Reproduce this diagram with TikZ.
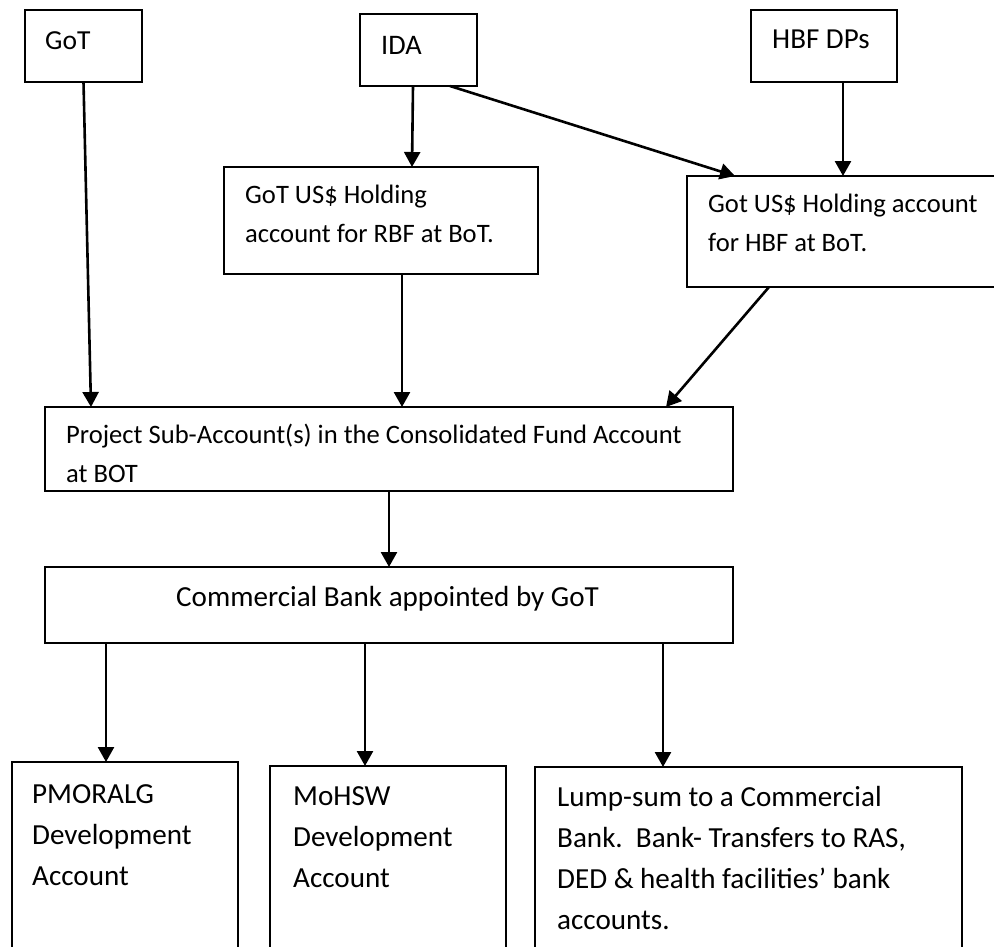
\documentclass[tikz,border=0pt]{standalone}
\usepackage{fontspec}
\setmainfont{Carlito}
\usetikzlibrary{arrows.meta}
\begin{document}
\begin{tikzpicture}[x=1pt,y=-1pt,
  box/.style={draw, line width=2pt, inner sep=0pt, outer sep=0pt, anchor=north west},
  conn/.style={line width=2.6pt, -{Triangle[length=15pt,width=16pt]}},
  txt/.style={anchor=base west, inner sep=0pt, align=left, font=\fontsize{26.6}{38.5}\selectfont},
  txtb/.style={txt, font=\fontsize{29.1}{41}\selectfont}]
\useasboundingbox (0,0) rectangle (994,946);
\clip (0,0) rectangle (994,946);
% boxes
\node[box, minimum width=117pt, minimum height=72pt] (got) at (25,10) {};
\node[box, minimum width=117pt, minimum height=72pt] (ida) at (360,14) {};
\node[box, minimum width=146pt, minimum height=72pt] (hbfdp) at (751,10) {};
\node[box, minimum width=314pt, minimum height=107pt] (rbf) at (224,167) {};
\node[box, minimum width=330pt, minimum height=111pt] (hbf) at (687,176) {};
\node[box, minimum width=688pt, minimum height=84pt] (sub) at (45,407) {};
\node[box, minimum width=688pt, minimum height=76pt] (com) at (45,567) {};
\node[box, minimum width=226pt, minimum height=200pt] (pm) at (12,762) {};
\node[box, minimum width=236pt, minimum height=200pt] (mo) at (270,766) {};
\node[box, minimum width=427pt, minimum height=200pt] (lump) at (535,767) {};
% texts (base anchor = baseline of last line)
\node[txt, font=\fontsize{27.5}{38}\selectfont] (tgot) at (45,49) {GoT};
\node[txt, font=\fontsize{28.3}{38}\selectfont] (tida) at (381,54) {IDA};
\node[txt, font=\fontsize{29}{38}\selectfont] (thbfdp) at (772,48) {HBF DPs};
\node[txt] (trbf) at (245,242) {GoT US\$ Holding\\account for RBF at BoT.};
\node[txt] (thbf) at (708,251) {Got US\$ Holding account\\for HBF at BoT.};
\node[txt] (tsub) at (66,482) {Project Sub-Account(s) in the Consolidated Fund Account\\at BOT};
\node[txtb] (tcom) at (176,606) {Commercial Bank appointed by GoT};
\node[txtb] (tpm) at (32,885) {PMORALG\\Development\\Account};
\node[txtb] (tmo) at (293,887) {MoHSW\\Development\\Account};
\node[txtb] (tlump) at (557,929) {Lump-sum to a Commercial\\Bank.\ \ Bank- Transfers to RAS,\\DED \& health facilities’ bank\\accounts.};
% connectors
\draw[conn] ([xshift=58.5pt]got.south west) -- ([xshift=46pt]sub.north west);
\draw[conn] ([xshift=53pt]ida.south west) -- ([xshift=188pt]rbf.north west);
\draw[conn] ([xshift=90pt]ida.south west) -- ([xshift=48pt]hbf.north west);
\draw[conn] ([xshift=92pt]hbfdp.south west) -- ([xshift=156pt]hbf.north west);
\draw[conn] ([xshift=178pt]rbf.south west) -- ([xshift=357pt]sub.north west);
\draw[conn] ([xshift=82pt]hbf.south west) -- ([xshift=621pt]sub.north west);
\draw[conn] ([xshift=344pt]sub.south west) -- ([xshift=344pt]com.north west);
\draw[conn] ([xshift=61pt]com.south west) -- ([xshift=94pt]pm.north west);
\draw[conn] ([xshift=320pt]com.south west) -- ([xshift=95pt]mo.north west);
\draw[conn] ([xshift=618pt]com.south west) -- ([xshift=128pt]lump.north west);
\end{tikzpicture}
\end{document}
